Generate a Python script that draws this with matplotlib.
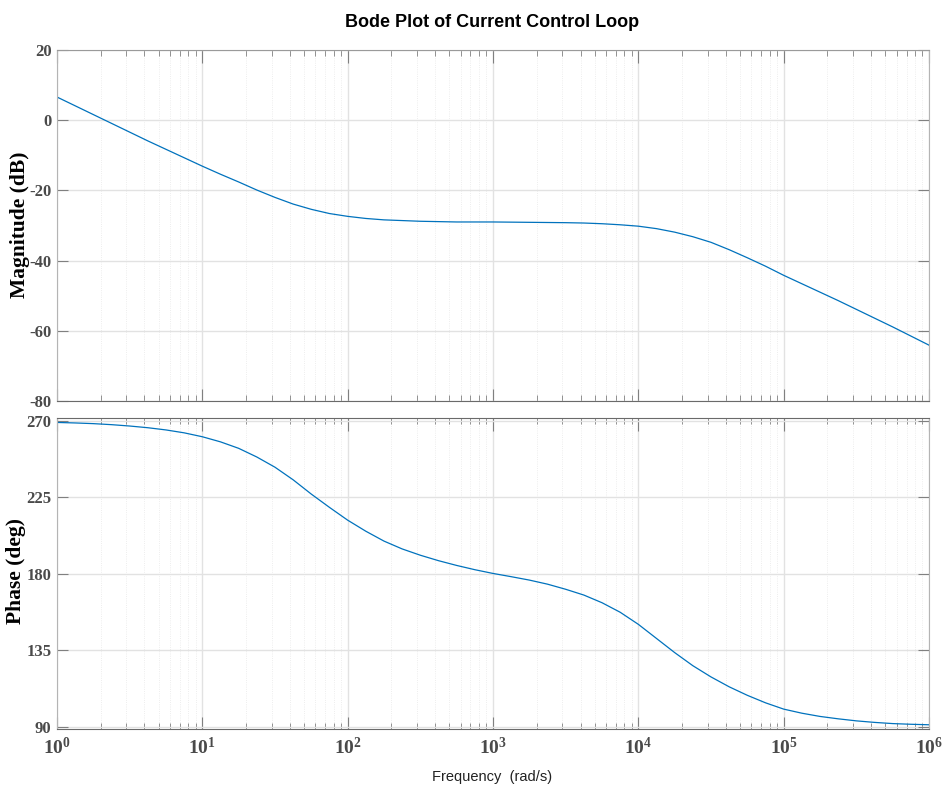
import numpy as np
import matplotlib
matplotlib.use('Agg')
import matplotlib.pyplot as plt
from matplotlib.ticker import FixedLocator, FixedFormatter, LogLocator, NullFormatter

# values (log10 of frequency in rad/s)
freq_log = [0.0, 0.125, 0.25, 0.375, 0.5, 0.625, 0.75, 0.875, 1.0, 1.125, 1.25, 1.375,
            1.5, 1.625, 1.75, 1.875, 2.0, 2.125, 2.25, 2.375, 2.5, 2.625, 2.75, 2.875,
            3.0, 3.125, 3.25, 3.375, 3.5, 3.625, 3.75, 3.875, 4.0, 4.125, 4.25, 4.375,
            4.5, 4.625, 4.75, 4.875, 5.0, 5.125, 5.25, 5.375, 5.5, 5.625, 5.75, 5.875, 6.0]
mag_db = [6.6, 4.1, 1.6, -0.9, -3.4, -5.9, -8.3, -10.7, -13.1, -15.4, -17.6, -19.9,
          -22.0, -23.9, -25.4, -26.6, -27.4, -28.0, -28.4, -28.6, -28.8, -28.9, -29.0, -29.0,
          -29.0, -29.05, -29.1, -29.15, -29.2, -29.3, -29.5, -29.8, -30.2, -30.9, -31.9, -33.2,
          -34.8, -36.9, -39.2, -41.6, -44.2, -46.6, -49.0, -51.4, -53.9, -56.4, -58.9, -61.5, -64.1]
phase_deg = [268.9, 268.6, 268.2, 267.6, 266.8, 265.8, 264.5, 262.8, 260.5, 257.5, 253.7, 248.6,
             242.6, 235.2, 226.8, 219.0, 211.5, 205.0, 199.2, 194.6, 190.9, 187.7, 184.9, 182.4,
             180.2, 178.3, 176.3, 173.9, 170.9, 167.5, 163.0, 157.4, 150.3, 142.0, 133.7, 126.0,
             119.4, 113.6, 108.6, 104.2, 100.5, 98.1, 96.2, 94.8, 93.6, 92.7, 92.0, 91.6, 91.3]

mag_ticks = [-80, -60, -40, -20, 0, 20]
phase_ticks = [90, 135, 180, 225, 270]
decades = [0, 1, 2, 3, 4, 5, 6]

freq = 10 ** np.array(freq_log)

plt.rcParams['font.family'] = 'serif'
plt.rcParams['font.serif'] = ['Liberation Serif', 'DejaVu Serif']
plt.rcParams['font.weight'] = 'bold'
plt.rcParams['axes.unicode_minus'] = False
plt.rcParams['mathtext.fontset'] = 'custom'
plt.rcParams['mathtext.rm'] = 'Liberation Serif:bold'
plt.rcParams['mathtext.it'] = 'Liberation Serif:bold'
plt.rcParams['mathtext.bf'] = 'Liberation Serif:bold'

line_col = '#0072BD'
lab_col = '#4a4a4a'

fig = plt.figure(figsize=(9.43, 7.92), dpi=100)
ax1 = fig.add_axes([0.0604, 0.4937, 0.9248, 0.4432])
ax2 = fig.add_axes([0.0604, 0.0795, 0.9248, 0.3927])

ax1.semilogx(freq, mag_db, color=line_col, lw=0.9)
ax2.semilogx(freq, phase_deg, color=line_col, lw=0.9)

ax1.set_ylim(-80, 20)
ax1.yaxis.set_major_locator(FixedLocator(mag_ticks))
ax2.set_ylim(88.8, 271.5)
ax2.yaxis.set_major_locator(FixedLocator(phase_ticks))

for ax in (ax1, ax2):
    ax.set_xlim(1, 1e6)
    ax.xaxis.set_major_locator(FixedLocator([10.0 ** d for d in decades]))
    ax.xaxis.set_minor_locator(LogLocator(base=10, subs=np.arange(2, 10), numticks=20))
    ax.xaxis.set_minor_formatter(NullFormatter())
    ax.grid(which='major', color='#e2e2e2', lw=1.0, ls='-')
    ax.grid(which='minor', axis='x', color='#e8e8e8', lw=0.6, ls=':')
    ax.set_axisbelow(True)
    ax.tick_params(which='both', direction='in', top=True, right=True,
                   color='#808080', labelcolor=lab_col, labelsize=12)
    ax.tick_params(which='major', length=8, width=0.8, pad=4)
    ax.tick_params(which='minor', length=4, width=0.6)
    ax.tick_params(axis='x', which='major', length=9)
    for side in ('left', 'right'):
        ax.spines[side].set_color('#b4b4b4')
    for side in ('top', 'bottom'):
        ax.spines[side].set_color('#6a6a6a')

ax1.spines['top'].set_color('#9a9a9a')
ax1.tick_params(axis='x', labelbottom=False)
ax2.xaxis.set_major_formatter(FixedFormatter([r'$\mathrm{10^{%d}}$' % d for d in decades]))
ax2.tick_params(axis='x', labelsize=14, pad=6)

fig.text(0.5217, 0.972, 'Bode Plot of Current Control Loop', ha='center', va='center',
         fontsize=13, fontweight='bold', color='black', family='Liberation Sans')
fig.text(0.5217, 0.019, 'Frequency  (rad/s)', ha='center', va='center',
         fontsize=10.5, fontweight='normal', color='#222222', family='Liberation Sans')
fig.text(0.0212, 0.716, 'Magnitude (dB)', ha='center', va='center', rotation=90,
         fontsize=15.5, fontweight='bold', color='black')
fig.text(0.0170, 0.2790, 'Phase (deg)', ha='center', va='center', rotation=90,
         fontsize=15.5, fontweight='bold', color='black')

fig.savefig('out.png', dpi=100)
